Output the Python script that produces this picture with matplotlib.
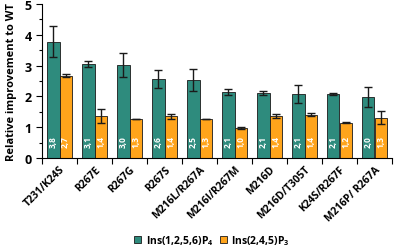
import matplotlib
matplotlib.use("Agg")
import matplotlib.pyplot as plt
import numpy as np
from matplotlib.ticker import MultipleLocator, FixedLocator

categories = ["T231/K24S", "R267E", "R267G", "R267S", "M216L/R267A",
              "M216I/R267M", "M216D", "M216D/T305T", "K24S/R267F", "M216P/ R267A"]
p4_values = [3.78, 3.06, 3.02, 2.56, 2.53, 2.13, 2.11, 2.08, 2.09, 1.98]
p4_errors = [0.50, 0.10, 0.38, 0.30, 0.36, 0.10, 0.06, 0.30, 0.03, 0.33]
p3_values = [2.67, 1.37, 1.27, 1.36, 1.27, 0.97, 1.37, 1.41, 1.15, 1.31]
p3_errors = [0.05, 0.22, 0.00, 0.08, 0.00, 0.03, 0.06, 0.06, 0.02, 0.20]
p4_labels = ["3,8", "3,1", "3,0", "2,6", "2,5", "2,1", "2,1", "2,1", "2,1", "2,0"]
p3_labels = ["2,7", "1,4", "1,3", "1,4", "1,3", "1,0", "1,4", "1,4", "1,2", "1,3"]
series_names = ["Ins(1,2,5,6)P$_4$", "Ins(2,4,5)P$_3$"]

plt.rcParams['font.family'] = ['Open Sans', 'DejaVu Sans']
plt.rcParams['font.weight'] = 'bold'
plt.rcParams['mathtext.fontset'] = 'custom'
plt.rcParams['mathtext.rm'] = 'Open Sans:bold'
plt.rcParams['mathtext.it'] = 'Open Sans:bold'
plt.rcParams['mathtext.bf'] = 'Open Sans:bold'
plt.rcParams['mathtext.default'] = 'bf'

teal = "#2e8b7d"
orange = "#ffa41b"

fig = plt.figure(figsize=(4, 2.53), dpi=100)
ax = fig.add_axes([0.105, 0.372, 0.875, 0.608])

x = np.arange(len(categories)) + 0.5
w = 0.35
ax.bar(x - w/2, p4_values, w, color=teal, edgecolor="#1a1a1a", linewidth=0.6,
       yerr=p4_errors, capsize=3, error_kw=dict(elinewidth=1.0, capthick=1.0, ecolor="#1a1a1a"),
       label=series_names[0])
ax.bar(x + w/2, p3_values, w, color=orange, edgecolor="#1a1a1a", linewidth=0.6,
       yerr=p3_errors, capsize=3, error_kw=dict(elinewidth=1.0, capthick=1.0, ecolor="#1a1a1a"),
       label=series_names[1])

for xi, l4, l3 in zip(x, p4_labels, p3_labels):
    ax.text(xi - w/2, 0.55, l4, rotation=90, ha='center', va='center', color='white',
            fontsize=6, fontweight='bold')
    ax.text(xi + w/2, 0.55, l3, rotation=90, ha='center', va='center', color='white',
            fontsize=6, fontweight='bold')

ax.set_xlim(0, len(categories))
ax.set_ylim(0, 5)
ax.yaxis.set_major_locator(MultipleLocator(1))
ax.yaxis.set_minor_locator(MultipleLocator(0.5))
ax.tick_params(axis='y', which='major', labelsize=9, length=4, width=0.8)
ax.tick_params(axis='y', which='minor', length=2.5, width=0.8)
for t in ax.get_yticklabels():
    t.set_fontweight('bold')
ax.xaxis.set_major_locator(FixedLocator(np.arange(len(categories) + 1)))
ax.xaxis.set_minor_locator(FixedLocator(x))
ax.set_xticklabels([], minor=False)
ax.set_xticklabels(categories, minor=True, rotation=45, ha='right',
                   rotation_mode='anchor', fontsize=7.5, fontweight='bold')
ax.tick_params(axis='x', which='major', length=4, width=0.8)
ax.tick_params(axis='x', which='minor', length=0, pad=4)
for s in ['top', 'right']:
    ax.spines[s].set_visible(False)
for s in ['left', 'bottom']:
    ax.spines[s].set_linewidth(0.8)

ax.set_ylabel("Relative improvement to WT", fontsize=8, fontweight='bold', labelpad=5)

fig.legend(loc='center', bbox_to_anchor=(0.53, 0.047), ncol=2, frameon=False,
           handlelength=0.7, handleheight=0.7, columnspacing=0.6,
           handletextpad=0.4, prop=dict(weight='bold', size=7.5))

fig.savefig("out.png", dpi=100)
